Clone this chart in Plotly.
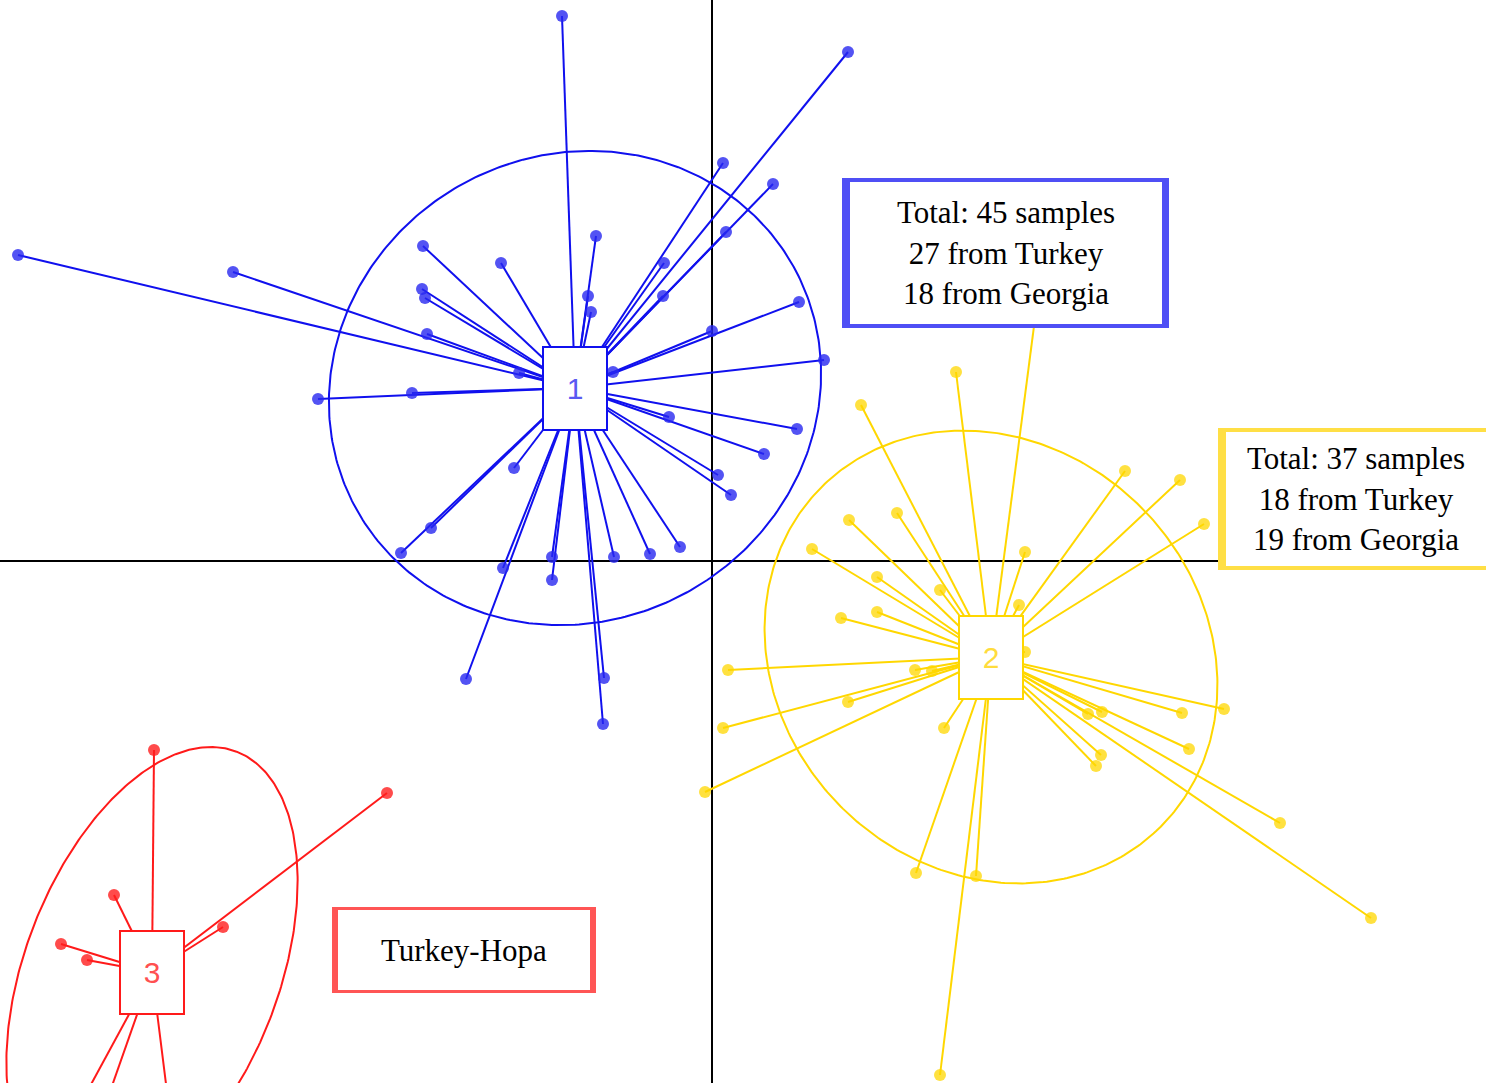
import numpy as np
import plotly.graph_objects as go

# ---------------- data (discriminant-function coordinates) ----------------
cluster_labels = ["1", "2", "3"]

blue_center = (-1.37, 1.73)
blue_x = [-1.50, 1.36, -6.94, -4.79, -3.94, -3.00, -2.89, -2.11, -1.16, -2.90, -2.87,
          -1.24, -1.21, -2.85, -1.93, -0.99, 0.11, 0.61, -0.48, 0.14, -0.49, 0.87,
          0.00, 1.12, -0.43, 0.06, 0.19, 0.85, 0.52, -1.98, -2.81, -3.11, -2.09,
          -1.60, -1.60, -0.98, -0.62, -0.32, -2.46, -1.08, -1.09]
blue_y = [5.45, 5.09, 3.06, 2.89, 1.62, 1.68, 3.15, 2.98, 3.25, 2.72, 2.63,
          2.65, 2.49, 2.27, 1.88, 1.89, 3.98, 3.77, 2.98, 3.29, 2.65, 2.59,
          2.30, 2.01, 1.44, 0.86, 0.66, 1.32, 1.07, 0.93, 0.33, 0.08, -0.07,
          0.04, -0.19, 0.04, 0.07, 0.14, -1.18, -1.17, -1.63]

yellow_center = (2.79, -0.96)
yellow_x = [1.37, 1.85, 1.00, 3.13, 1.65, 2.28, 3.07, 1.29, 1.65, 2.03, 2.20, 1.36,
            3.13, 0.16, 0.11, 2.32, -0.07, 2.04, 2.64, 5.12, 4.70, 3.90, 3.76, 4.77,
            3.89, 3.84, 5.68, 2.44, 1.49, 4.13, 4.68, 4.92, 6.59, 2.28, 3.28]
yellow_y = [0.41, 0.48, 0.12, 0.09, -0.16, -0.29, -0.44, -0.57, -0.51, -1.09, -1.10, -1.41,
            -0.91, -1.09, -1.67, -1.67, -2.31, -3.12, -3.15, -1.48, -1.52, -1.51, -1.53, -1.88,
            -1.94, -2.05, -2.62, 1.89, 1.56, 0.90, 0.81, 0.37, -3.57, -5.14, 2.81]

red_center = (-5.60, -4.11)
red_x = [-5.58, -3.25, -5.98, -6.51, -6.25, -4.89, -6.62, -6.26, -5.34]
red_y = [-1.89, -2.32, -3.34, -3.83, -3.99, -3.66, -5.99, -5.99, -6.19]

# ellipse parameters: (semi-major, semi-minor, angle in degrees)
blue_ellipse = (2.50, 2.33, 29)
yellow_ellipse = (2.40, 2.12, -45)
red_ellipse = (2.36, 1.27, 69)

info_texts = ["Total: 45 samples<br>27 from Turkey<br>18 from Georgia",
              "Total: 37 samples<br>18 from Turkey<br>19 from Georgia",
              "Turkey-Hopa"]

# ---------------- styling ----------------
X_RANGE = [-7.12, 7.74]
Y_RANGE = [-5.22, 5.61]
W, H = 1486, 1083
sx_px = W / (X_RANGE[1] - X_RANGE[0])   # pixels per x unit
sy_px = H / (Y_RANGE[1] - Y_RANGE[0])   # pixels per y unit

line_cols = ["#1010ee", "#ffd700", "#ff1a1a"]
dot_cols = ["rgba(40,40,240,0.8)", "rgba(255,215,0,0.75)", "rgba(255,30,30,0.8)"]
label_cols = ["#5a5af2", "#ffdc3c", "#ff5050"]
box_cols = ["#4f4ff5", "#ffdf45", "#ff5555"]

fig = go.Figure()

groups = [
    (blue_center, blue_x, blue_y, blue_ellipse),
    (yellow_center, yellow_x, yellow_y, yellow_ellipse),
    (red_center, red_x, red_y, red_ellipse),
]

t = np.linspace(0, 2 * np.pi, 400)
for i, (c, xs, ys, ell) in enumerate(groups):
    a, b, ang = ell
    th = np.deg2rad(ang)
    ex = c[0] + a * np.cos(t) * np.cos(th) - b * np.sin(t) * np.sin(th)
    ey = c[1] + a * np.cos(t) * np.sin(th) + b * np.sin(t) * np.cos(th)
    fig.add_trace(go.Scatter(x=ex, y=ey, mode="lines",
                             line=dict(color=line_cols[i], width=2),
                             hoverinfo="skip", showlegend=False))
    segx, segy = [], []
    for px, py in zip(xs, ys):
        segx += [c[0], px, None]
        segy += [c[1], py, None]
    fig.add_trace(go.Scatter(x=segx, y=segy, mode="lines",
                             line=dict(color=line_cols[i], width=2),
                             hoverinfo="skip", showlegend=False))
    fig.add_trace(go.Scatter(x=xs, y=ys, mode="markers",
                             marker=dict(color=dot_cols[i], size=12),
                             showlegend=False))

# centroid label boxes
for i, (c, xs, ys, ell) in enumerate(groups):
    fig.add_annotation(x=c[0], y=c[1], text=cluster_labels[i], showarrow=False,
                       font=dict(family="Liberation Sans, Arial", size=30, color=label_cols[i]),
                       bgcolor="white", bordercolor=line_cols[i], borderwidth=2,
                       borderpad=0, width=62, height=81)

# info boxes: center (data), inner width/height (px), border (px), side-bar width left/right (px)
info_boxes = [
    (2.94, 3.08, 312, 142, 4, 4, 3),
    (6.44, 0.62, 260, 134, 4, 4, 0),
    (-2.48, -3.89, 252, 80, 3, 3, 3),
]
for i, (x, y, w, h, bw, barl, barr) in enumerate(info_boxes):
    fig.add_annotation(x=x, y=y, text=info_texts[i], showarrow=False,
                       font=dict(family="Liberation Serif, Times New Roman, serif",
                                 size=31, color="black"),
                       bgcolor="white", bordercolor=box_cols[i], borderwidth=bw,
                       borderpad=0, width=w, height=h, align="center")
    half_w = (w / 2 + bw) / sx_px
    half_h = (h / 2 + bw) / sy_px
    if barl:
        fig.add_shape(type="rect", x0=x - half_w - barl / sx_px, x1=x - half_w,
                      y0=y - half_h, y1=y + half_h,
                      fillcolor=box_cols[i], line=dict(width=0), layer="above")
    if barr:
        fig.add_shape(type="rect", x0=x + half_w, x1=x + half_w + barr / sx_px,
                      y0=y - half_h, y1=y + half_h,
                      fillcolor=box_cols[i], line=dict(width=0), layer="above")

fig.update_layout(
    width=W, height=H,
    margin=dict(l=0, r=0, t=0, b=0),
    paper_bgcolor="white", plot_bgcolor="white",
    showlegend=False,
    xaxis=dict(range=X_RANGE, showgrid=False, showticklabels=False,
               zeroline=True, zerolinecolor="black", zerolinewidth=2,
               showline=False, ticks=""),
    yaxis=dict(range=Y_RANGE, showgrid=False, showticklabels=False,
               zeroline=True, zerolinecolor="black", zerolinewidth=2,
               showline=False, ticks=""),
)

fig.write_html("out.html")
